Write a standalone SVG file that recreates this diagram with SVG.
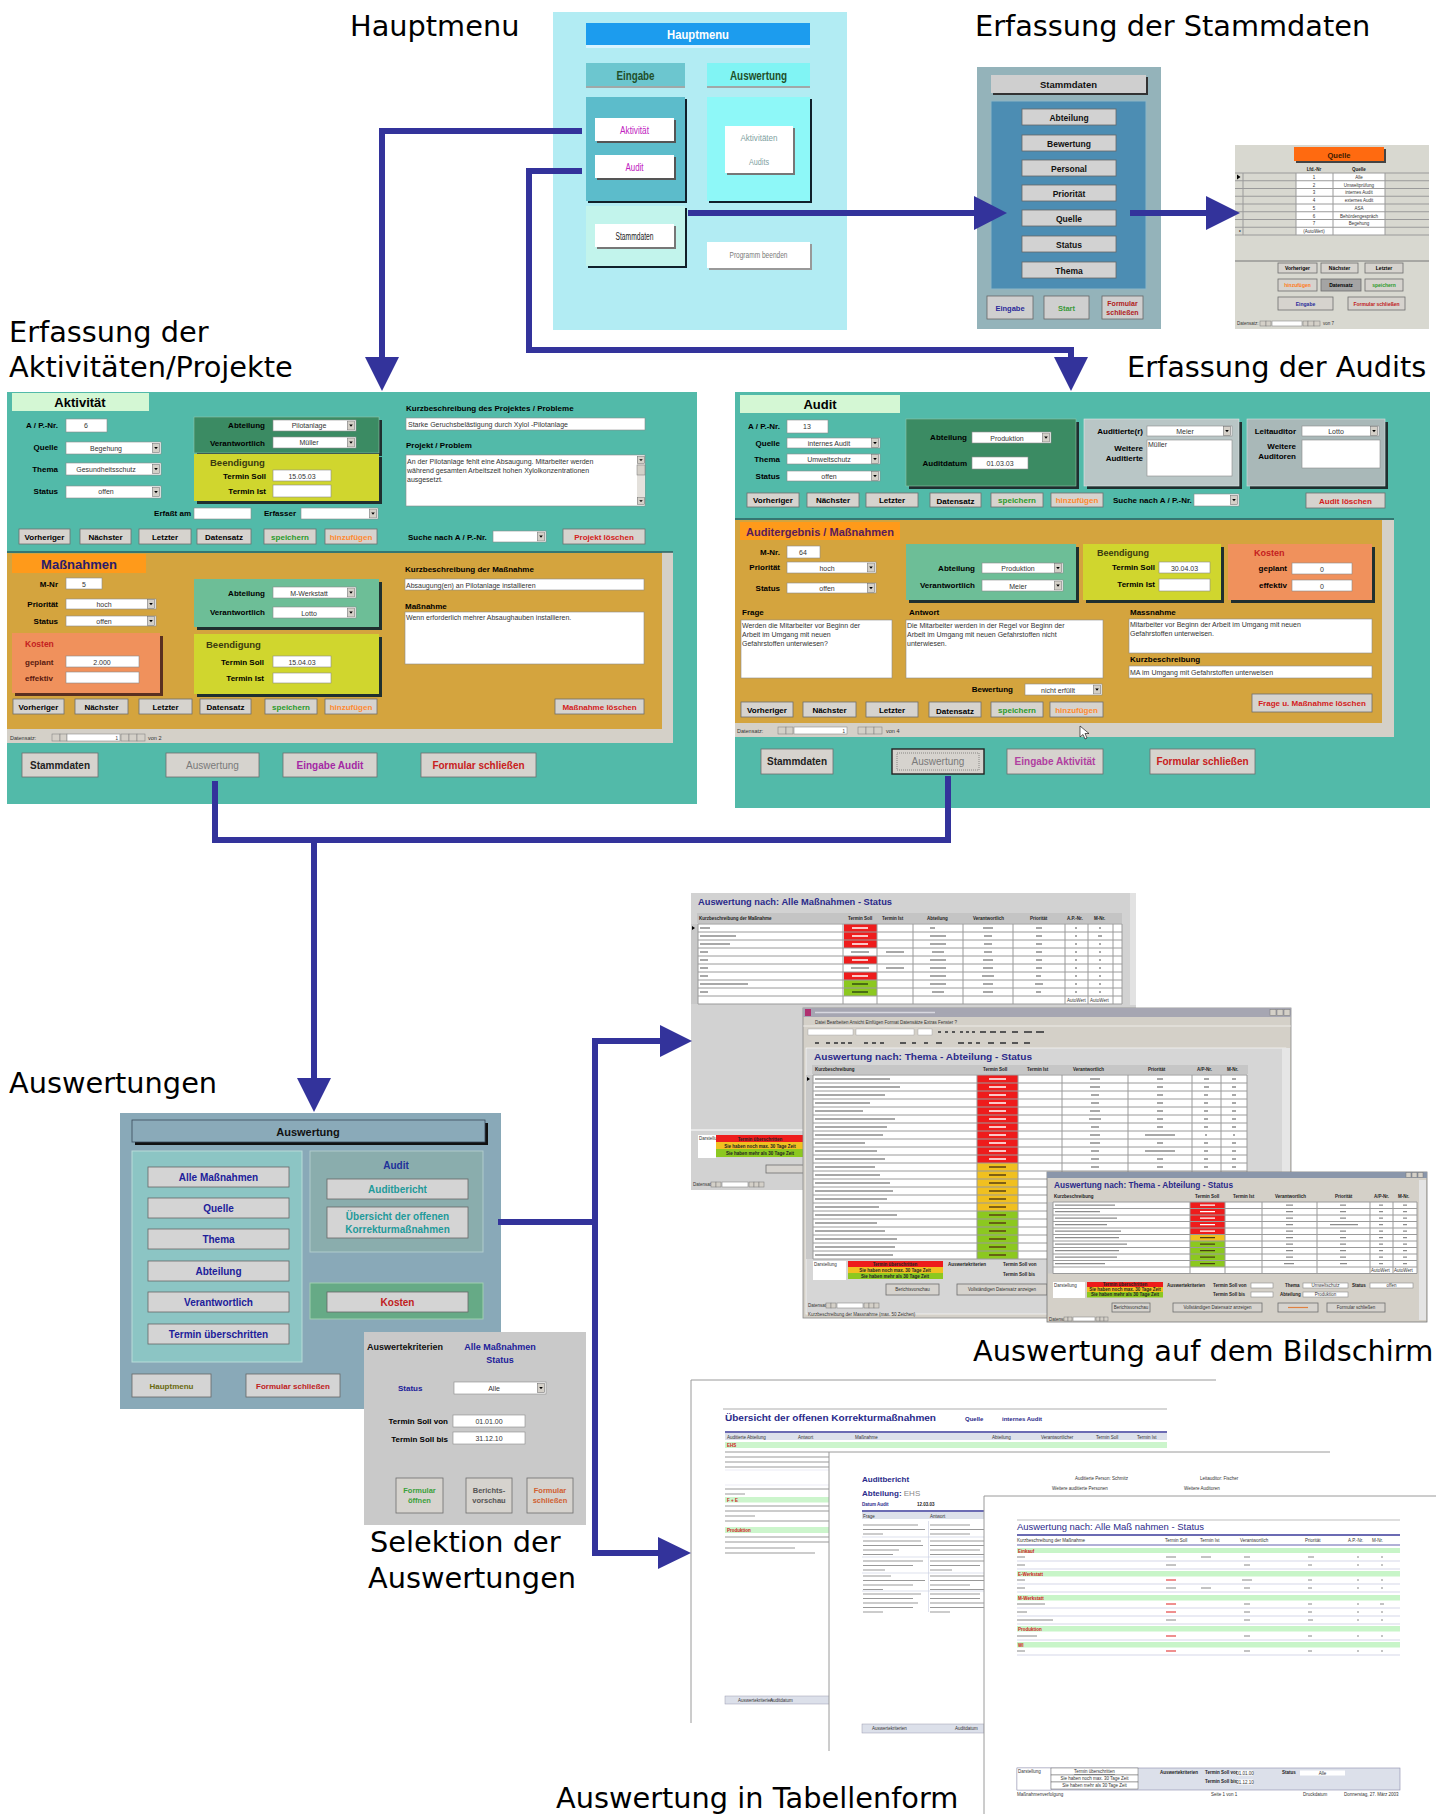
<svg xmlns="http://www.w3.org/2000/svg" width="1436" height="1814" viewBox="0 0 1436 1814">
<defs>
<style>
.lbl{font-family:"DejaVu Sans",Verdana,sans-serif;font-size:28.8px;fill:#000}
.lb{font-family:"Liberation Sans",Arial,sans-serif;font-weight:bold;font-size:8px;fill:#000;text-anchor:end}
.ls{font-family:"Liberation Sans",Arial,sans-serif;font-weight:bold;font-size:8px;fill:#000}
.vl{font-family:"Liberation Sans",Arial,sans-serif;font-size:7px;fill:#333;text-anchor:middle}
.vs{font-family:"Liberation Sans",Arial,sans-serif;font-size:7px;fill:#333}
.bt{font-family:"Liberation Sans",Arial,sans-serif;font-weight:bold;font-size:8px;fill:#000;text-anchor:middle}
.bb{font-family:"Liberation Sans",Arial,sans-serif;font-weight:bold;font-size:10px;text-anchor:middle}
.btn{fill:#d6d3ce;stroke:#6e6e6e;stroke-width:0.8}
.inp{fill:#fff;stroke:#8a8a8a;stroke-width:0.6}
.sh{fill:#1f2f2f}
.conn{fill:none;stroke:#33339b;stroke-width:6}
.head{fill:#33339b}
.tiny{font-family:"Liberation Sans",Arial,sans-serif;font-size:4.5px;fill:#333}
.tinyb{font-family:"Liberation Sans",Arial,sans-serif;font-size:4.5px;font-weight:bold;fill:#222}
.bar{stroke:#8c8c8c;stroke-width:1.5;fill:none}
.wbar{stroke:#ffffff;stroke-width:1.5;fill:none}
.grid{stroke:#9a9a9a;stroke-width:1;fill:none}
.nav{fill:#d4d0c8;stroke:#777;stroke-width:0.5}
</style>
<symbol id="dd" viewBox="0 0 8 10" preserveAspectRatio="none">
<rect x="0.5" y="0.5" width="7" height="9" fill="#d4d0c8" stroke="#777" stroke-width="0.6"/>
<polygon points="2.2,4 5.8,4 4,6.3" fill="#000"/>
</symbol>
</defs>
<rect x="0" y="0" width="1436" height="1814" fill="#ffffff"/>

<!-- ============ HAUPTMENU SCREEN ============ -->
<g id="hauptmenu">
<rect x="553" y="12" width="294" height="318" fill="#b2ecf3"/>
<rect x="586" y="23" width="224" height="22" fill="#1c9cee"/>
<rect x="586" y="45" width="224" height="3" fill="#d8f4ff"/>
<text x="698" y="39" font-family="Liberation Sans, Arial, sans-serif" font-weight="bold" font-size="13" fill="#fff" text-anchor="middle" textLength="62" lengthAdjust="spacingAndGlyphs">Hauptmenu</text>
<rect x="586" y="63" width="99" height="23" fill="#6cc6cf"/>
<rect x="586" y="86" width="99" height="2" fill="#a0a8a8"/>
<text x="635.5" y="80" font-family="Liberation Sans, Arial, sans-serif" font-weight="bold" font-size="12" fill="#1f4f2a" text-anchor="middle" textLength="38" lengthAdjust="spacingAndGlyphs">Eingabe</text>
<rect x="707" y="63" width="103" height="23" fill="#80f4f4"/>
<rect x="707" y="86" width="103" height="2" fill="#a0a8a8"/>
<text x="758.5" y="80" font-family="Liberation Sans, Arial, sans-serif" font-weight="bold" font-size="12" fill="#1f4f2a" text-anchor="middle" textLength="57" lengthAdjust="spacingAndGlyphs">Auswertung</text>
<rect x="588" y="99" width="99" height="104" fill="#10202a"/>
<rect x="586" y="97" width="99" height="104" fill="#5cbccb"/>
<rect x="597" y="120" width="79" height="23" fill="#555"/>
<rect x="595" y="118" width="79" height="23" fill="#fff"/>
<text x="634.5" y="134" font-family="Liberation Sans, Arial, sans-serif" font-size="10" fill="#c020c0" text-anchor="middle" textLength="29" lengthAdjust="spacingAndGlyphs">Aktivität</text>
<rect x="597" y="157" width="79" height="23" fill="#555"/>
<rect x="595" y="155" width="79" height="23" fill="#fff"/>
<text x="634.5" y="171" font-family="Liberation Sans, Arial, sans-serif" font-size="10" fill="#c020c0" text-anchor="middle" textLength="18" lengthAdjust="spacingAndGlyphs">Audit</text>
<rect x="709" y="99" width="103" height="104" fill="#10202a"/>
<rect x="707" y="97" width="103" height="104" fill="#8ef8f8"/>
<rect x="727" y="128" width="68" height="47" fill="#777"/>
<rect x="725" y="126" width="68" height="47" fill="#fff"/>
<text x="759" y="141" font-family="Liberation Sans, Arial, sans-serif" font-size="9" fill="#7f9f9f" text-anchor="middle" textLength="37" lengthAdjust="spacingAndGlyphs">Aktivitäten</text>
<text x="759" y="165" font-family="Liberation Sans, Arial, sans-serif" font-size="9" fill="#7f9f9f" text-anchor="middle" textLength="20" lengthAdjust="spacingAndGlyphs">Audits</text>
<rect x="588" y="208" width="99" height="60" fill="#10202a"/>
<rect x="586" y="206" width="99" height="60" fill="#c2f4ec"/>
<rect x="597" y="226" width="79" height="23" fill="#777"/>
<rect x="595" y="224" width="79" height="23" fill="#fff"/>
<text x="634.5" y="240" font-family="Liberation Sans, Arial, sans-serif" font-size="10" fill="#222" text-anchor="middle" textLength="38" lengthAdjust="spacingAndGlyphs">Stammdaten</text>
<rect x="709" y="244" width="103" height="26" fill="#999"/>
<rect x="707" y="242" width="103" height="26" fill="#fff"/>
<text x="758.5" y="258" font-family="Liberation Sans, Arial, sans-serif" font-size="9" fill="#7a7a7a" text-anchor="middle" textLength="58" lengthAdjust="spacingAndGlyphs">Programm beenden</text>
</g>

<!-- ============ STAMMDATEN SCREEN ============ -->
<g id="stammdaten">
<rect x="977" y="67" width="184" height="262" fill="#94b3ba"/>
<rect x="993" y="77" width="155" height="18" fill="#333"/>
<rect x="991" y="75" width="155" height="18" fill="#cfcfcf"/>
<text x="1068.5" y="88" font-family="Liberation Sans, Arial, sans-serif" font-weight="bold" font-size="9.5" fill="#111" text-anchor="middle">Stammdaten</text>
<rect x="991" y="101" width="155" height="188" fill="#4c8db3" stroke="#8cb6c6" stroke-width="1"/>
<g font-family="Liberation Sans, Arial, sans-serif" font-weight="bold" font-size="8.5" fill="#111" text-anchor="middle">
<rect x="1022" y="109" width="94" height="16" fill="#d2d2d2" stroke="#666" stroke-width="0.8"/><text x="1069" y="120.5">Abteilung</text>
<rect x="1022" y="135" width="94" height="16" fill="#d2d2d2" stroke="#666" stroke-width="0.8"/><text x="1069" y="146.5">Bewertung</text>
<rect x="1022" y="160" width="94" height="16" fill="#d2d2d2" stroke="#666" stroke-width="0.8"/><text x="1069" y="171.5">Personal</text>
<rect x="1022" y="185" width="94" height="16" fill="#d2d2d2" stroke="#666" stroke-width="0.8"/><text x="1069" y="196.5">Priorität</text>
<rect x="1022" y="210" width="94" height="16" fill="#d2d2d2" stroke="#666" stroke-width="0.8"/><text x="1069" y="221.5">Quelle</text>
<rect x="1022" y="236" width="94" height="16" fill="#d2d2d2" stroke="#666" stroke-width="0.8"/><text x="1069" y="247.5">Status</text>
<rect x="1022" y="262" width="94" height="16" fill="#d2d2d2" stroke="#666" stroke-width="0.8"/><text x="1069" y="273.5">Thema</text>
</g>
<rect x="987" y="296" width="46" height="23" fill="#cfcfcf" stroke="#666" stroke-width="0.8"/>
<text x="1010" y="311" font-family="Liberation Sans, Arial, sans-serif" font-weight="bold" font-size="7.5" fill="#2a2a9a" text-anchor="middle">Eingabe</text>
<rect x="1044" y="296" width="45" height="23" fill="#cfcfcf" stroke="#666" stroke-width="0.8"/>
<text x="1066.5" y="311" font-family="Liberation Sans, Arial, sans-serif" font-weight="bold" font-size="7.5" fill="#3a9a3a" text-anchor="middle">Start</text>
<rect x="1102" y="296" width="41" height="23" fill="#cfcfcf" stroke="#666" stroke-width="0.8"/>
<text x="1122.5" y="306" font-family="Liberation Sans, Arial, sans-serif" font-weight="bold" font-size="7" fill="#b02020" text-anchor="middle">Formular</text>
<text x="1122.5" y="315" font-family="Liberation Sans, Arial, sans-serif" font-weight="bold" font-size="7" fill="#b02020" text-anchor="middle">schließen</text>
</g>

<!-- ============ QUELLE SCREEN ============ -->
<g id="quelle">
<rect x="1235" y="145" width="194" height="184" fill="#d8d8d0"/>
<rect x="1296" y="149" width="90" height="14" fill="#444"/>
<rect x="1294" y="147" width="90" height="14" fill="#ff6a10"/>
<text x="1339" y="157.5" font-family="Liberation Sans, Arial, sans-serif" font-weight="bold" font-size="7.5" fill="#3a1a00" text-anchor="middle">Quelle</text>
<text x="1314" y="170.5" class="tinyb" text-anchor="middle">Lfd.-Nr</text>
<text x="1359" y="170.5" class="tinyb" text-anchor="middle">Quelle</text>
<rect x="1296" y="173" width="89" height="62" fill="#fff"/>
<path class="grid" d="M1235 173H1429M1235 180.75H1429M1235 188.5H1429M1235 196.25H1429M1235 204H1429M1235 211.75H1429M1235 219.5H1429M1235 227.25H1429M1235 235H1429M1243 173V235M1296 173V235M1333 173V235M1385 173V235"/>
<polygon points="1237,174.5 1240.5,177 1237,179.5" fill="#000"/>
<text x="1239" y="233.5" class="tinyb">*</text>
<g class="tiny" text-anchor="middle">
<text x="1314" y="178.8">1</text><text x="1359" y="178.8">Alle</text>
<text x="1314" y="186.5">2</text><text x="1359" y="186.5">Umweltprüfung</text>
<text x="1314" y="194.3">3</text><text x="1359" y="194.3">internes Audit</text>
<text x="1314" y="202">4</text><text x="1359" y="202">externes Audit</text>
<text x="1314" y="209.8">5</text><text x="1359" y="209.8">ASA</text>
<text x="1314" y="217.5">6</text><text x="1359" y="217.5">Behördengespräch</text>
<text x="1314" y="225.3">7</text><text x="1359" y="225.3">Begehung</text>
<text x="1314" y="233">(AutoWert)</text>
</g>
<line x1="1235" y1="261" x2="1429" y2="261" stroke="#777" stroke-width="1"/>
<g font-family="Liberation Sans, Arial, sans-serif" font-weight="bold" font-size="5" text-anchor="middle">
<rect class="btn" x="1278" y="263" width="39" height="10"/><text x="1297.5" y="270">Vorheriger</text>
<rect class="btn" x="1321" y="263" width="37" height="10"/><text x="1339.5" y="270">Nächster</text>
<rect class="btn" x="1365" y="263" width="38" height="10"/><text x="1384" y="270">Letzter</text>
<rect class="btn" x="1278" y="279" width="39" height="12"/><text x="1297.5" y="287" fill="#ff7a20">hinzufügen</text>
<rect x="1321" y="279" width="40" height="12" fill="#a4a4a4" stroke="#6e6e6e" stroke-width="0.8"/><text x="1341" y="287">Datensatz</text>
<rect class="btn" x="1365" y="279" width="38" height="12"/><text x="1384" y="287" fill="#2a9a2a">speichern</text>
<rect class="btn" x="1278" y="297" width="55" height="13"/><text x="1305.5" y="305.5" fill="#2a2a9a">Eingabe</text>
<rect class="btn" x="1348" y="297" width="57" height="13"/><text x="1376.5" y="305.5" fill="#c02020">Formular schließen</text>
</g>
<text x="1237" y="325" class="tiny">Datensatz:</text>
<rect class="nav" x="1260" y="321" width="6" height="5"/><rect class="nav" x="1266" y="321" width="5" height="5"/>
<rect class="inp" x="1272" y="321" width="30" height="5"/>
<rect class="nav" x="1303" y="321" width="5" height="5"/><rect class="nav" x="1308" y="321" width="6" height="5"/><rect class="nav" x="1314" y="321" width="6" height="5"/>
<text x="1323" y="325" class="tiny">von 7</text>
</g>

<!-- ============ AKTIVITÄT FORM ============ -->
<g id="form-aktivitaet">
<rect x="7" y="392" width="690" height="412" fill="#52baa9"/>
<rect x="12" y="393" width="137" height="18" fill="#d4f7d4"/>
<text x="80" y="407" font-family="Liberation Sans, Arial, sans-serif" font-weight="bold" font-size="13" text-anchor="middle">Aktivität</text>
<text class="lb" x="58" y="428">A / P.-Nr.</text>
<rect class="inp" x="66" y="419" width="41" height="13"/><text class="vl" x="86" y="428">6</text>
<text class="lb" x="58" y="450">Quelle</text>
<rect class="inp" x="66" y="442" width="95" height="12"/><use href="#dd" x="152" y="443" width="8" height="10"/><text class="vl" x="106" y="451">Begehung</text>
<text class="lb" x="58" y="472">Thema</text>
<rect class="inp" x="66" y="463" width="95" height="12"/><use href="#dd" x="152" y="464" width="8" height="10"/><text class="vl" x="106" y="472">Gesundheitsschutz</text>
<text class="lb" x="58" y="494">Status</text>
<rect class="inp" x="66" y="486" width="95" height="12"/><use href="#dd" x="152" y="487" width="8" height="10"/><text class="vl" x="106" y="494">offen</text>

<rect class="sh" x="197" y="420" width="185" height="36"/>
<rect x="194" y="417" width="185" height="36" fill="#3b8b63" stroke="#8fc4a8" stroke-width="0.6"/>
<text class="lb" x="265" y="428">Abteilung</text>
<rect class="inp" x="273" y="420" width="83" height="11"/><use href="#dd" x="347" y="420.5" width="8" height="10"/><text class="vl" x="309" y="428">Pilotanlage</text>
<text class="lb" x="265" y="446">Verantwortlich</text>
<rect class="inp" x="273" y="437" width="83" height="11"/><use href="#dd" x="347" y="437.5" width="8" height="10"/><text class="vl" x="309" y="445">Müller</text>

<rect class="sh" x="197" y="457" width="185" height="47"/>
<rect x="194" y="454" width="185" height="47" fill="#d0d62e"/>
<text class="ls" x="210" y="466" style="font-size:9.5px;fill:#3a3a10">Beendigung</text>
<text class="lb" x="266" y="479">Termin  Soll</text>
<rect class="inp" x="273" y="470" width="58" height="11"/><text class="vl" x="302" y="478.5">15.05.03</text>
<text class="lb" x="266" y="494">Termin Ist</text>
<rect class="inp" x="273" y="485" width="58" height="12"/>

<text class="lb" x="191" y="516">Erfaßt am</text><rect class="inp" x="194" y="508" width="57" height="11"/>
<text class="lb" x="296" y="516">Erfasser</text><rect class="inp" x="301" y="508" width="77" height="11"/><use href="#dd" x="369" y="508.5" width="8" height="10"/>

<text class="ls" x="406" y="411">Kurzbeschreibung des Projektes / Probleme</text>
<rect class="inp" x="406" y="418" width="239" height="12"/><text class="vs" x="408" y="427">Starke Geruchsbelästigung durch Xylol -Pilotanlage</text>
<text class="ls" x="406" y="448">Projekt / Problem</text>
<rect class="inp" x="406" y="455" width="239" height="51"/>
<rect x="637" y="456" width="8" height="49" fill="#e4e1dc"/>
<use href="#dd" x="637" y="456" width="8" height="8"/><use href="#dd" x="637" y="497" width="8" height="8"/>
<rect x="637" y="465" width="8" height="10" fill="#d4d0c8" stroke="#777" stroke-width="0.5"/>
<text class="vs" x="407" y="464">An der Pilotanlage fehlt eine Absaugung. Mitarbeiter werden</text>
<text class="vs" x="407" y="473">während gesamten Arbeitszeit hohen Xylolkonzentrationen</text>
<text class="vs" x="407" y="482">ausgesetzt.</text>

<rect class="btn" x="19" y="529" width="51" height="15"/><text class="bt" x="44.5" y="540">Vorheriger</text>
<rect class="btn" x="80" y="529" width="51" height="15"/><text class="bt" x="105.5" y="540">Nächster</text>
<rect class="btn" x="139" y="529" width="52" height="15"/><text class="bt" x="165" y="540">Letzter</text>
<rect class="btn" x="197" y="529" width="54" height="15"/><text class="bt" x="224" y="540">Datensatz</text>
<rect class="btn" x="264" y="529" width="52" height="15"/><text class="bt" x="290" y="540" style="fill:#2a9a2a">speichern</text>
<rect class="btn" x="325" y="529" width="52" height="15"/><text class="bt" x="351" y="540" style="fill:#ff8a30">hinzufügen</text>
<text class="ls" x="408" y="540">Suche nach A / P.-Nr.</text>
<rect class="inp" x="493" y="531" width="53" height="11"/><use href="#dd" x="537" y="531.5" width="8" height="10"/>
<rect class="btn" x="563" y="529" width="82" height="15"/><text class="bt" x="604" y="540" style="fill:#d42020">Projekt  löschen</text>

<rect x="662" y="552" width="11" height="191" fill="#d4d0c8"/>
<rect x="7" y="729" width="666" height="14" fill="#d4d0c8"/>
<rect x="7" y="553" width="655" height="176" fill="#d4a43e"/>
<line x1="7" y1="552" x2="673" y2="552" stroke="#2d5f5f" stroke-width="1.5"/>
<rect x="12" y="554" width="134" height="19" fill="#ff9a1a"/>
<text x="79" y="569" font-family="Liberation Sans, Arial, sans-serif" font-weight="bold" font-size="13" fill="#2a1a6a" text-anchor="middle">Maßnahmen</text>
<text class="lb" x="58" y="587">M-Nr</text>
<rect class="inp" x="66" y="578" width="36" height="11"/><text class="vl" x="84" y="586.5">5</text>
<text class="lb" x="58" y="607">Priorität</text>
<rect class="inp" x="66" y="599" width="90" height="10"/><use href="#dd" x="147" y="599" width="8" height="10"/><text class="vl" x="104" y="607">hoch</text>
<text class="lb" x="58" y="624">Status</text>
<rect class="inp" x="66" y="616" width="90" height="10"/><use href="#dd" x="147" y="616" width="8" height="10"/><text class="vl" x="104" y="624">offen</text>

<rect x="15" y="636" width="148" height="60" fill="#5a3020"/>
<rect x="12" y="633" width="148" height="60" fill="#f0915c"/>
<text class="ls" x="25" y="647" style="font-size:8.5px;fill:#c42020">Kosten</text>
<text class="ls" x="25" y="665" style="fill:#5a1a10">geplant</text>
<rect class="inp" x="66" y="656" width="73" height="11"/><text class="vl" x="102" y="664.5">2.000</text>
<text class="ls" x="25" y="681" style="fill:#5a1a10">effektiv</text>
<rect class="inp" x="66" y="672" width="73" height="11"/>

<rect class="sh" x="197" y="582" width="185" height="48"/>
<rect x="194" y="579" width="185" height="48" fill="#6dbe97"/>
<text class="lb" x="265" y="596">Abteilung</text>
<rect class="inp" x="273" y="587" width="83" height="11"/><use href="#dd" x="347" y="587.5" width="8" height="10"/><text class="vl" x="309" y="595.5">M-Werkstatt</text>
<text class="lb" x="265" y="615">Verantwortlich</text>
<rect class="inp" x="273" y="607" width="83" height="11"/><use href="#dd" x="347" y="607.5" width="8" height="10"/><text class="vl" x="309" y="615.5">Lotto</text>

<rect class="sh" x="197" y="637" width="185" height="60"/>
<rect x="194" y="634" width="185" height="60" fill="#d0d62e"/>
<text class="ls" x="206" y="648" style="font-size:9.5px;fill:#3a3a10">Beendigung</text>
<text class="lb" x="264" y="665">Termin Soll</text>
<rect class="inp" x="273" y="656" width="58" height="11"/><text class="vl" x="302" y="664.5">15.04.03</text>
<text class="lb" x="264" y="681">Termin Ist</text>
<rect class="inp" x="273" y="673" width="58" height="10"/>

<text class="ls" x="405" y="572">Kurzbeschreibung der Maßnahme</text>
<rect class="inp" x="405" y="579" width="239" height="11"/><text class="vs" x="406" y="587.5">Absaugung(en) an Pilotanlage installieren</text>
<text class="ls" x="405" y="609">Maßnahme</text>
<rect class="inp" x="405" y="612" width="239" height="52"/><text class="vs" x="406" y="620">Wenn erforderlich mehrer Absaughauben installieren.</text>

<rect class="btn" x="13" y="699" width="51" height="15"/><text class="bt" x="38.5" y="710">Vorheriger</text>
<rect class="btn" x="75" y="699" width="53" height="15"/><text class="bt" x="101.5" y="710">Nächster</text>
<rect class="btn" x="139" y="699" width="53" height="15"/><text class="bt" x="165.5" y="710">Letzter</text>
<rect class="btn" x="200" y="699" width="51" height="15"/><text class="bt" x="225.5" y="710">Datensatz</text>
<rect class="btn" x="265" y="699" width="52" height="15"/><text class="bt" x="291" y="710" style="fill:#2a9a2a">speichern</text>
<rect class="btn" x="325" y="699" width="52" height="15"/><text class="bt" x="351" y="710" style="fill:#ff8a30">hinzufügen</text>
<rect class="btn" x="555" y="699" width="89" height="15"/><text class="bt" x="599.5" y="710" style="fill:#d42020">Maßnahme löschen</text>

<text x="10" y="739.5" class="tiny" style="font-size:5.5px">Datensatz:</text>
<rect class="nav" x="52" y="734" width="8" height="7"/><rect class="nav" x="60" y="734" width="7" height="7"/>
<rect class="inp" x="67" y="734" width="53" height="7"/><text x="118" y="740" class="tiny" text-anchor="end">1</text>
<rect class="nav" x="121" y="734" width="8" height="7"/><rect class="nav" x="129" y="734" width="8" height="7"/><rect class="nav" x="137" y="734" width="8" height="7"/>
<text x="148" y="739.5" class="tiny" style="font-size:5.5px">von 2</text>

<rect class="btn" x="22" y="753" width="76" height="24"/><text class="bb" x="60" y="768.5" fill="#222">Stammdaten</text>
<rect class="btn" x="166" y="753" width="93" height="24"/><text class="bb" x="212.5" y="768.5" fill="#7a7a7a" font-weight="normal" style="font-weight:normal">Auswertung</text>
<rect class="btn" x="283" y="753" width="94" height="24"/><text class="bb" x="330" y="768.5" fill="#a428a4">Eingabe Audit</text>
<rect class="btn" x="421" y="753" width="115" height="24"/><text class="bb" x="478.5" y="768.5" fill="#c82020">Formular schließen</text>
</g>

<!-- ============ AUDIT FORM ============ -->
<g id="form-audit">
<rect x="735" y="392" width="695" height="416" fill="#52baa9"/>
<rect x="740" y="395" width="160" height="18" fill="#d4f7d4"/>
<text x="820" y="409" font-family="Liberation Sans, Arial, sans-serif" font-weight="bold" font-size="13" text-anchor="middle">Audit</text>
<text class="lb" x="780" y="429">A / P.-Nr.</text>
<rect class="inp" x="787" y="420" width="41" height="13"/><text class="vl" x="807" y="429">13</text>
<text class="lb" x="780" y="446">Quelle</text>
<rect class="inp" x="787" y="438" width="93" height="10"/><use href="#dd" x="871" y="438" width="8" height="10"/><text class="vl" x="829" y="446">internes Audit</text>
<text class="lb" x="780" y="462">Thema</text>
<rect class="inp" x="787" y="454" width="93" height="10"/><use href="#dd" x="871" y="454" width="8" height="10"/><text class="vl" x="829" y="462">Umweltschutz</text>
<text class="lb" x="780" y="479">Status</text>
<rect class="inp" x="787" y="471" width="93" height="10"/><use href="#dd" x="871" y="471" width="8" height="10"/><text class="vl" x="829" y="479">offen</text>

<rect class="sh" x="909" y="422" width="170" height="67"/>
<rect x="906" y="419" width="170" height="67" fill="#3b8b63" stroke="#8fc4a8" stroke-width="0.6"/>
<text class="lb" x="967" y="440">Abteilung</text>
<rect class="inp" x="972" y="432" width="79" height="11"/><use href="#dd" x="1042" y="432.5" width="8" height="10"/><text class="vl" x="1007" y="440.5">Produktion</text>
<text class="lb" x="967" y="466">Auditdatum</text>
<rect class="inp" x="972" y="457" width="56" height="12"/><text class="vl" x="1000" y="466">01.03.03</text>

<rect class="sh" x="1087" y="422" width="155" height="67"/>
<rect x="1084" y="419" width="155" height="67" fill="#b9c6c6" stroke="#e0e8e8" stroke-width="0.6"/>
<text class="lb" x="1143" y="434">Auditierte(r)</text>
<rect class="inp" x="1147" y="426" width="85" height="10"/><use href="#dd" x="1223" y="426" width="8" height="10"/><text class="vl" x="1185" y="434">Meier</text>
<text class="lb" x="1143" y="451">Weitere</text>
<text class="lb" x="1143" y="461">Auditierte</text>
<rect class="inp" x="1147" y="440" width="85" height="36"/><text class="vs" x="1148" y="447">Müller</text>

<rect class="sh" x="1250" y="422" width="138" height="67"/>
<rect x="1247" y="419" width="138" height="67" fill="#a9b8b8" stroke="#d8e0e0" stroke-width="0.6"/>
<text class="lb" x="1296" y="434">Leitauditor</text>
<rect class="inp" x="1302" y="426" width="77" height="10"/><use href="#dd" x="1370" y="426" width="8" height="10"/><text class="vl" x="1336" y="434">Lotto</text>
<text class="lb" x="1296" y="449">Weitere</text>
<text class="lb" x="1296" y="459">Auditoren</text>
<rect class="inp" x="1302" y="440" width="78" height="28"/>

<rect class="btn" x="747" y="493" width="52" height="14"/><text class="bt" x="773" y="503">Vorheriger</text>
<rect class="btn" x="807" y="493" width="52" height="14"/><text class="bt" x="833" y="503">Nächster</text>
<rect class="btn" x="866" y="493" width="52" height="14"/><text class="bt" x="892" y="503">Letzter</text>
<rect class="btn" x="930" y="493" width="51" height="14"/><text class="bt" x="955.5" y="503.5">Datensatz</text>
<rect class="btn" x="991" y="493" width="52" height="14"/><text class="bt" x="1017" y="503" style="fill:#2a9a2a">speichern</text>
<rect class="btn" x="1051" y="493" width="52" height="14"/><text class="bt" x="1077" y="503" style="fill:#ff8a30">hinzufügen</text>
<text class="ls" x="1113" y="503">Suche nach A / P.-Nr.</text>
<rect class="inp" x="1194" y="494" width="45" height="12"/><use href="#dd" x="1230" y="495" width="8" height="10"/>
<rect class="btn" x="1306" y="493" width="79" height="15"/><text class="bt" x="1345.5" y="503.5" style="fill:#d42020">Audit  löschen</text>

<rect x="1382" y="520" width="12" height="217" fill="#d4d0c8"/>
<rect x="735" y="723" width="659" height="14" fill="#d4d0c8"/>
<rect x="735" y="520" width="647" height="203" fill="#d4a43e"/>
<line x1="735" y1="519" x2="1394" y2="519" stroke="#2d5f5f" stroke-width="1.5"/>
<rect x="740" y="522" width="160" height="18" fill="#ff9a1a"/>
<text x="746" y="536" font-family="Liberation Sans, Arial, sans-serif" font-weight="bold" font-size="10.5" fill="#5a1a5a" textLength="148" lengthAdjust="spacingAndGlyphs">Auditergebnis / Maßnahmen</text>
<text class="lb" x="780" y="555">M-Nr.</text>
<rect class="inp" x="787" y="546" width="33" height="12"/><text class="vl" x="803" y="555">64</text>
<text class="lb" x="780" y="570">Priorität</text>
<rect class="inp" x="787" y="562" width="89" height="11"/><use href="#dd" x="867" y="562.5" width="8" height="10"/><text class="vl" x="827" y="570.5">hoch</text>
<text class="lb" x="780" y="591">Status</text>
<rect class="inp" x="787" y="583" width="89" height="10"/><use href="#dd" x="867" y="583" width="8" height="10"/><text class="vl" x="827" y="591">offen</text>

<rect class="sh" x="909" y="547" width="170" height="56"/>
<rect x="906" y="544" width="170" height="56" fill="#6dbe97"/>
<text class="lb" x="975" y="571">Abteilung</text>
<rect class="inp" x="982" y="563" width="81" height="10"/><use href="#dd" x="1054" y="563" width="8" height="10"/><text class="vl" x="1018" y="571">Produktion</text>
<text class="lb" x="975" y="588">Verantwortlich</text>
<rect class="inp" x="982" y="580" width="81" height="11"/><use href="#dd" x="1054" y="580.5" width="8" height="10"/><text class="vl" x="1018" y="588.5">Meier</text>

<rect class="sh" x="1086" y="547" width="138" height="56"/>
<rect x="1083" y="544" width="138" height="56" fill="#d0d62e"/>
<text class="ls" x="1097" y="555.5" style="font-size:9px;fill:#3a3a10">Beendigung</text>
<text class="lb" x="1155" y="570">Termin Soll</text>
<rect class="inp" x="1159" y="562" width="51" height="11"/><text class="vl" x="1184.5" y="570.5">30.04.03</text>
<text class="lb" x="1155" y="587">Termin Ist</text>
<rect class="inp" x="1159" y="579" width="51" height="12"/>

<rect class="sh" x="1231" y="547" width="144" height="56"/>
<rect x="1228" y="544" width="144" height="56" fill="#f0915c"/>
<text class="ls" x="1254" y="555.5" style="font-size:9px;fill:#c42020">Kosten</text>
<text class="lb" x="1287" y="571">geplant</text>
<rect class="inp" x="1292" y="563" width="60" height="11"/><text class="vl" x="1322" y="571.5">0</text>
<text class="lb" x="1287" y="588">effektiv</text>
<rect class="inp" x="1292" y="580" width="60" height="11"/><text class="vl" x="1322" y="588.5">0</text>

<text class="ls" x="742" y="615">Frage</text>
<rect class="inp" x="741" y="620" width="151" height="58"/>
<text class="vs" x="742" y="628">Werden die Mitarbeiter vor Beginn der</text>
<text class="vs" x="742" y="637">Arbeit im Umgang mit neuen</text>
<text class="vs" x="742" y="646">Gefahrstoffen unterwiesen?</text>
<text class="ls" x="909" y="615">Antwort</text>
<rect class="inp" x="906" y="620" width="197" height="58"/>
<text class="vs" x="907" y="628">Die Mitarbeiter werden in der Regel vor Beginn der</text>
<text class="vs" x="907" y="637">Arbeit im Umgang mit neuen Gefahrstoffen nicht</text>
<text class="vs" x="907" y="646">unterwiesen.</text>
<text class="ls" x="1130" y="615">Massnahme</text>
<rect class="inp" x="1129" y="619" width="243" height="34"/>
<text class="vs" x="1130" y="627">Mitarbeiter vor Beginn der Arbeit im Umgang mit neuen</text>
<text class="vs" x="1130" y="636">Gefahrstoffen unterweisen.</text>
<text class="ls" x="1130" y="662">Kurzbeschreibung</text>
<rect class="inp" x="1129" y="666" width="243" height="12"/>
<text class="vs" x="1130" y="674.5">MA im Umgang mit Gefahrstoffen unterweisen</text>
<text class="lb" x="1013" y="692">Bewertung</text>
<rect class="inp" x="1025" y="684" width="77" height="11"/><use href="#dd" x="1093" y="684.5" width="8" height="10"/><text class="vl" x="1058" y="692.5">nicht erfüllt</text>
<rect class="btn" x="1252" y="694" width="120" height="18"/><text class="bt" x="1312" y="706" style="fill:#d42020">Frage u. Maßnahme  löschen</text>

<rect class="btn" x="741" y="702" width="52" height="15"/><text class="bt" x="767" y="713">Vorheriger</text>
<rect class="btn" x="803" y="702" width="53" height="15"/><text class="bt" x="829.5" y="713">Nächster</text>
<rect class="btn" x="866" y="702" width="52" height="15"/><text class="bt" x="892" y="713">Letzter</text>
<rect class="btn" x="929" y="702" width="52" height="15"/><text class="bt" x="955" y="713.5">Datensatz</text>
<rect class="btn" x="991" y="702" width="52" height="15"/><text class="bt" x="1017" y="713" style="fill:#2a9a2a">speichern</text>
<rect class="btn" x="1050" y="702" width="53" height="15"/><text class="bt" x="1076.5" y="713" style="fill:#ff8a30">hinzufügen</text>

<text x="737" y="733" class="tiny" style="font-size:5.5px">Datensatz:</text>
<rect class="nav" x="778" y="727" width="8" height="7"/><rect class="nav" x="786" y="727" width="7" height="7"/>
<rect class="inp" x="794" y="727" width="53" height="7"/><text x="845" y="733" class="tiny" text-anchor="end">1</text>
<rect class="nav" x="858" y="727" width="8" height="7"/><rect class="nav" x="866" y="727" width="8" height="7"/><rect class="nav" x="874" y="727" width="8" height="7"/>
<text x="886" y="733" class="tiny" style="font-size:5.5px">von 4</text>
<polygon points="1080,726 1080,737 1083,734.5 1085,739 1087,738 1085,733.5 1089,733.5" fill="#fff" stroke="#000" stroke-width="0.6"/>

<rect class="btn" x="761" y="749" width="72" height="25"/><text class="bb" x="797" y="765" fill="#222">Stammdaten</text>
<rect x="892" y="749" width="92" height="25" fill="#d6d3ce" stroke="#222" stroke-width="1.4"/>
<rect x="897" y="753" width="82" height="17" fill="none" stroke="#555" stroke-width="0.6" stroke-dasharray="1,1"/>
<text class="bb" x="938" y="765" fill="#7a7a7a" style="font-weight:normal">Auswertung</text>
<rect class="btn" x="1007" y="749" width="96" height="25"/><text class="bb" x="1055" y="765" fill="#b040a0">Eingabe Aktivität</text>
<rect class="btn" x="1150" y="749" width="105" height="25"/><text class="bb" x="1202.5" y="765" fill="#c82020">Formular schließen</text>
</g>

<!-- ============ AUSWERTUNG MENU ============ -->
<g id="auswertung-menu">
<rect x="120" y="1113" width="381" height="296" fill="#89a9b8"/>
<rect x="135" y="1123" width="353" height="22" fill="#111"/>
<rect x="132" y="1120" width="353" height="22" fill="#8aaab9" stroke="#3a4a5a" stroke-width="0.8"/>
<text x="308" y="1135.5" font-family="Liberation Sans, Arial, sans-serif" font-weight="bold" font-size="11" fill="#111" text-anchor="middle">Auswertung</text>
<rect x="132" y="1151" width="170" height="211" fill="#8cc5c4" stroke="#b8dcd8" stroke-width="1"/>
<g font-family="Liberation Sans, Arial, sans-serif" font-weight="bold" font-size="10" fill="#20209a" text-anchor="middle">
<rect x="148" y="1167" width="141" height="20" fill="#d4d4d4" stroke="#666" stroke-width="0.8"/><text x="218.5" y="1180.5">Alle Maßnahmen</text>
<rect x="148" y="1198" width="141" height="20" fill="#d4d4d4" stroke="#666" stroke-width="0.8"/><text x="218.5" y="1211.5">Quelle</text>
<rect x="148" y="1229" width="141" height="20" fill="#d4d4d4" stroke="#666" stroke-width="0.8"/><text x="218.5" y="1242.5">Thema</text>
<rect x="148" y="1261" width="141" height="20" fill="#d4d4d4" stroke="#666" stroke-width="0.8"/><text x="218.5" y="1274.5">Abteilung</text>
<rect x="148" y="1292" width="141" height="20" fill="#d4d4d4" stroke="#666" stroke-width="0.8"/><text x="218.5" y="1305.5">Verantwortlich</text>
<rect x="148" y="1324" width="141" height="20" fill="#d4d4d4" stroke="#666" stroke-width="0.8"/><text x="218.5" y="1337.5">Termin überschritten</text>
</g>
<rect x="310" y="1151" width="173" height="101" fill="#8aadad" stroke="#b0cccc" stroke-width="1"/>
<text x="396" y="1169" font-family="Liberation Sans, Arial, sans-serif" font-weight="bold" font-size="10" fill="#20309a" text-anchor="middle">Audit</text>
<g font-family="Liberation Sans, Arial, sans-serif" font-weight="bold" font-size="10" fill="#1f9a9a" text-anchor="middle">
<rect x="327" y="1179" width="141" height="20" fill="#d4d4d4" stroke="#666" stroke-width="0.8"/><text x="397.5" y="1192.5">Auditbericht</text>
<rect x="327" y="1207" width="141" height="31" fill="#d4d4d4" stroke="#666" stroke-width="0.8"/><text x="397.5" y="1220">Übersicht der offenen</text><text x="397.5" y="1232.5">Korrekturmaßnahmen</text>
</g>
<rect x="310" y="1283" width="173" height="36" fill="#66aa86" stroke="#a0d0b0" stroke-width="1"/>
<rect x="327" y="1292" width="141" height="20" fill="#d4d4d4" stroke="#666" stroke-width="0.8"/>
<text x="397.5" y="1305.5" font-family="Liberation Sans, Arial, sans-serif" font-weight="bold" font-size="10" fill="#c02020" text-anchor="middle">Kosten</text>
<rect x="132" y="1374" width="79" height="23" fill="#d4d4d4" stroke="#666" stroke-width="0.8"/>
<text x="171.5" y="1388.5" font-family="Liberation Sans, Arial, sans-serif" font-weight="bold" font-size="8" fill="#6a6a10" text-anchor="middle">Hauptmenu</text>
<rect x="246" y="1374" width="94" height="23" fill="#d4d4d4" stroke="#666" stroke-width="0.8"/>
<text x="293" y="1388.5" font-family="Liberation Sans, Arial, sans-serif" font-weight="bold" font-size="8" fill="#c02020" text-anchor="middle">Formular schließen</text>
</g>

<!-- ============ SELEKTION ============ -->
<g id="selektion">
<rect x="364" y="1332" width="222" height="193" fill="#c9c9c9"/>
<text x="367" y="1350" font-family="Liberation Sans, Arial, sans-serif" font-weight="bold" font-size="9" fill="#111">Auswertekriterien</text>
<text x="500" y="1350" font-family="Liberation Sans, Arial, sans-serif" font-weight="bold" font-size="9" fill="#20209a" text-anchor="middle">Alle Maßnahmen</text>
<text x="500" y="1362.5" font-family="Liberation Sans, Arial, sans-serif" font-weight="bold" font-size="9" fill="#20209a" text-anchor="middle">Status</text>
<text x="398" y="1390.5" class="ls" style="fill:#20209a">Status</text>
<rect class="inp" x="454" y="1382" width="92" height="12"/><use href="#dd" x="537" y="1383" width="8" height="10"/><text class="vl" x="494" y="1390.5">Alle</text>
<text class="lb" x="448" y="1424">Termin Soll von</text>
<rect class="inp" x="453" y="1415" width="72" height="12"/><text class="vl" x="489" y="1424">01.01.00</text>
<text class="lb" x="448" y="1441.5">Termin Soll  bis</text>
<rect class="inp" x="453" y="1432" width="72" height="12"/><text class="vl" x="489" y="1441">31.12.10</text>
<g font-family="Liberation Sans, Arial, sans-serif" font-weight="bold" font-size="7.5" text-anchor="middle">
<rect class="btn" x="396" y="1478" width="47" height="35"/><text x="419.5" y="1493" fill="#3aa03a">Formular</text><text x="419.5" y="1503" fill="#3aa03a">öffnen</text>
<rect class="btn" x="466" y="1478" width="46" height="35"/><text x="489" y="1493" fill="#555">Berichts-</text><text x="489" y="1503" fill="#555">vorschau</text>
<rect class="btn" x="527" y="1478" width="46" height="35"/><text x="550" y="1493" fill="#d06030">Formular</text><text x="550" y="1503" fill="#d06030">schließen</text>
</g>
</g>

<!-- ============ SCREEN A: Alle Maßnahmen ============ -->
<g id="screen-a">
<rect x="691" y="893" width="445" height="297" fill="#d2d2d2"/>
<rect x="1130" y="893" width="6" height="112" fill="#e2e2e2"/>
<text x="698" y="905" font-family="Liberation Sans, Arial, sans-serif" font-weight="bold" font-size="9" fill="#2a2a8a" textLength="194" lengthAdjust="spacingAndGlyphs">Auswertung nach: Alle Maßnahmen - Status</text>
<rect x="697" y="913" width="425" height="10" fill="#c4c4c4"/>
<g class="tinyb" font-size="4">
<text x="699" y="920">Kurzbeschreibung der Maßnahme</text>
<text x="848" y="920">Termin Soll</text><text x="882" y="920">Termin Ist</text>
<text x="927" y="920">Abteilung</text><text x="973" y="920">Verantwortlich</text>
<text x="1030" y="920">Priorität</text><text x="1067" y="920">A.P.-Nr.</text><text x="1094" y="920">M-Nr.</text>
</g>
<rect x="698" y="924" width="424" height="80" fill="#fff"/>
<rect x="691" y="924" width="7" height="80" fill="#c8c8c8"/>
<rect x="844" y="924" width="33" height="8" fill="#ee1c1c"/>
<rect x="844" y="932" width="33" height="8" fill="#ee1c1c"/>
<rect x="844" y="940" width="33" height="8" fill="#ee1c1c"/>
<rect x="844" y="956" width="33" height="8" fill="#ee1c1c"/>
<rect x="844" y="972" width="33" height="8" fill="#ee1c1c"/>
<rect x="844" y="980" width="33" height="8" fill="#8cc820"/>
<rect x="844" y="988" width="33" height="8" fill="#8cc820"/>
<path class="grid" d="M698 924H1122M698 932H1122M698 940H1122M698 948H1122M698 956H1122M698 964H1122M698 972H1122M698 980H1122M698 988H1122M698 996H1122M698 1004H1122M698 924V1004M843 924V1004M877 924V1004M913 924V1004M963 924V1004M1013 924V1004M1065 924V1004M1088 924V1004M1113 924V1004M1122 924V1004"/>
<path class="bar" d="M700 928h10M700 936h36M700 944h30M700 952h8M700 960h8M700 968h8M700 976h8M700 984h48M700 992h8M930 928h5M930 936h16M930 944h16M932 952h12M930 960h16M930 968h16M930 976h16M930 984h16M932 992h12M983 928h10M984 936h8M984 944h8M984 952h8M983 960h10M983 968h10M982 976h12M983 984h10M983 992h10M1036 928h6M1036 936h6M1036 944h6M1036 952h6M1036 960h6M1036 968h6M1036 976h5M1035 984h8M1036 992h5M1075 928h2M1075 936h2M1075 944h2M1075 952h2M1075 960h2M1075 968h2M1075 976h2M1075 984h2M1075 992h2M1099 928h2M1098 936h4M1099 944h2M1099 952h2M1099 960h2M1099 968h2M1099 976h2M1099 984h2M1099 992h2M851 952h18M851 968h18M886 952h18M886 968h18"/>
<path class="wbar" d="M852 928h16M852 936h16M852 944h16M852 960h16M852 976h16"/>
<path stroke="#335010" stroke-width="1.5" d="M852 984h16M852 992h16"/>
<text x="1067" y="1002" class="tiny" font-size="3.5">AutoWert</text><text x="1090" y="1002" class="tiny" font-size="3.5">AutoWert</text>
<polygon points="692,926 695,928 692,930" fill="#000"/>
<line x1="691" y1="1130" x2="805" y2="1130" stroke="#fff" stroke-width="1"/>
<rect x="698" y="1135" width="18" height="23" fill="#fff"/>
<text x="699" y="1140" class="tiny" font-size="3.5">Darstellung</text>
<rect x="716" y="1135" width="88" height="7" fill="#ee1c1c"/>
<rect x="716" y="1142" width="88" height="7" fill="#f0c020"/>
<rect x="716" y="1149" width="88" height="8" fill="#8cc820"/>
<text x="760" y="1140.5" class="tinyb" font-size="3.8" fill="#fff" text-anchor="middle">Termin überschritten</text>
<text x="760" y="1147.5" class="tinyb" font-size="3.8" text-anchor="middle">Sie haben noch max. 30 Tage Zeit</text>
<text x="760" y="1154.5" class="tinyb" font-size="3.8" text-anchor="middle">Sie haben mehr als 30 Tage Zeit</text>
<rect class="btn" x="766" y="1165" width="40" height="8"/>
<text x="693" y="1186" class="tiny" font-size="3.8">Datensatz:</text>
<rect class="nav" x="711" y="1182" width="5" height="5"/><rect class="nav" x="716" y="1182" width="5" height="5"/>
<rect class="inp" x="722" y="1182" width="26" height="5"/>
<rect class="nav" x="749" y="1182" width="5" height="5"/><rect class="nav" x="754" y="1182" width="5" height="5"/><rect class="nav" x="759" y="1182" width="5" height="5"/>
</g>

<!-- ============ SCREEN B: Thema - Abteilung - Status (window) ============ -->
<g id="screen-b">
<rect x="803" y="1008" width="488" height="310" fill="#d4d0c8" stroke="#888" stroke-width="0.8"/>
<rect x="803" y="1008" width="488" height="9" fill="#a6a6b2"/>
<rect x="805" y="1009" width="6" height="7" fill="#b03070"/>
<path stroke="#d8d8e0" stroke-width="1.5" d="M815 1012.5h120"/>
<rect x="1270" y="1009.5" width="6" height="6" class="nav"/><rect x="1277" y="1009.5" width="6" height="6" class="nav"/><rect x="1284" y="1009.5" width="6" height="6" class="nav"/>
<text x="815" y="1023.5" class="tiny" font-size="4.5">Datei  Bearbeiten  Ansicht  Einfügen  Format  Datensätze  Extras  Fenster  ?</text>
<line x1="803" y1="1026" x2="1291" y2="1026" stroke="#fff" stroke-width="0.6"/>
<rect x="808" y="1029" width="45" height="6" fill="#fff" stroke="#999" stroke-width="0.4"/>
<rect x="856" y="1029" width="58" height="6" fill="#fff" stroke="#999" stroke-width="0.4"/>
<rect x="918" y="1029" width="14" height="6" fill="#fff" stroke="#999" stroke-width="0.4"/>
<path stroke="#555" stroke-width="2" d="M938 1032h3M945 1032h3M952 1032h3M960 1032h3M966 1032h3M972 1032h3M980 1032h6M990 1032h6M1000 1032h6M1012 1032h6M1024 1032h8M1036 1032h8M815 1043h4M826 1043h4M834 1043h4M841 1043h4M848 1043h4M864 1043h4M872 1043h4M880 1043h4M900 1043h6M912 1043h4M924 1043h4M936 1043h6M958 1043h6M968 1043h4M976 1043h4M988 1043h6M1000 1043h6M1012 1043h6M1024 1043h6"/>
<rect x="806" y="1048" width="480" height="266" fill="#d6d6d6" stroke="#fff" stroke-width="0.6"/>
<rect x="1282" y="1048" width="8" height="265" fill="#e6e6e6"/>
<text x="814" y="1060" font-family="Liberation Sans, Arial, sans-serif" font-weight="bold" font-size="9.5" fill="#2a2a8a" textLength="218" lengthAdjust="spacingAndGlyphs">Auswertung nach: Thema - Abteilung - Status</text>
<rect x="812" y="1065" width="436" height="9" fill="#c6c6c6"/>
<g class="tinyb" font-size="4">
<text x="815" y="1071">Kurzbeschreibung</text>
<text x="983" y="1071">Termin Soll</text><text x="1027" y="1071">Termin Ist</text>
<text x="1073" y="1071">Verantwortlich</text><text x="1148" y="1071">Priorität</text>
<text x="1197" y="1071">A/P-Nr.</text><text x="1227" y="1071">M-Nr.</text>
</g>
<rect x="813" y="1075" width="434" height="184" fill="#fff"/>
<rect x="806" y="1075" width="7" height="184" fill="#c8c8c8"/>
<rect x="977" y="1075" width="41" height="88" fill="#ee1c1c"/>
<rect x="977" y="1163" width="41" height="48" fill="#f0c020"/>
<rect x="977" y="1211" width="41" height="48" fill="#8cc820"/>
<path class="grid" d="M813 1075H1247M813 1083H1247M813 1091H1247M813 1099H1247M813 1107H1247M813 1115H1247M813 1123H1247M813 1131H1247M813 1139H1247M813 1147H1247M813 1155H1247M813 1163H1247M813 1171H1247M813 1179H1247M813 1187H1247M813 1195H1247M813 1203H1247M813 1211H1247M813 1219H1247M813 1227H1247M813 1235H1247M813 1243H1247M813 1251H1247M813 1259H1247M813 1075V1259M977 1075V1259M1018 1075V1259M1062 1075V1259M1128 1075V1259M1192 1075V1259M1221 1075V1259M1247 1075V1259"/>
<path class="bar" d="M815 1079h75M815 1087h85M815 1095h70M815 1103h55M815 1111h48M815 1119h80M815 1127h72M815 1135h68M815 1143h50M815 1151h62M815 1159h70M815 1167h60M815 1175h65M815 1183h75M815 1191h78M815 1199h72M815 1207h64M815 1215h82M815 1223h62M815 1231h70M815 1239h82M815 1247h80M815 1255h78M1090 1079h10M1090 1087h10M1091 1095h8M1091 1103h8M1090 1111h10M1089 1119h12M1091 1127h8M1090 1135h10M1090 1143h10M1091 1151h8M1091 1159h8M1091 1167h8M1157 1079h6M1157 1087h6M1157 1095h6M1157 1103h6M1157 1111h6M1157 1119h6M1157 1127h6M1145 1135h30M1157 1143h6M1145 1151h30M1157 1159h6M1157 1167h6M1204 1079h5M1204 1087h5M1204 1095h4M1204 1103h4M1204 1111h4M1204 1119h4M1204 1127h4M1205 1135h2M1204 1143h4M1204 1151h4M1204 1159h4M1204 1167h4M1232 1079h4M1232 1087h4M1232 1095h4M1232 1103h4M1232 1111h4M1232 1119h4M1232 1127h4M1233 1135h2M1232 1143h4M1232 1151h4M1232 1159h4M1232 1167h4"/>
<path class="wbar" d="M989 1079h17M989 1087h17M989 1095h17M989 1103h17M989 1111h17M989 1119h17M989 1127h17M989 1135h17M989 1143h17M989 1151h17M989 1159h17"/>
<path stroke="#5a4010" stroke-width="1.5" d="M989 1167h17M989 1175h17M989 1183h17M989 1191h17M989 1199h17M989 1207h17M989 1215h17M989 1223h17M989 1231h17M989 1239h17M989 1247h17M989 1255h17"/>
<polygon points="807,1077 810,1079 807,1081" fill="#000"/>
<rect x="813" y="1261" width="33" height="19" fill="#fff"/>
<text x="814" y="1266" class="tiny" font-size="3.5">Darstellung</text>
<rect x="848" y="1261" width="95" height="6" fill="#ee1c1c"/>
<rect x="848" y="1267" width="95" height="6" fill="#f0c020"/>
<rect x="848" y="1273" width="95" height="6" fill="#8cc820"/>
<text x="895" y="1265.8" class="tinyb" font-size="3.8" fill="#fff" text-anchor="middle">Termin überschritten</text>
<text x="895" y="1271.8" class="tinyb" font-size="3.8" text-anchor="middle">Sie haben noch max. 30 Tage Zeit</text>
<text x="895" y="1277.8" class="tinyb" font-size="3.8" text-anchor="middle">Sie haben mehr als 30 Tage Zeit</text>
<text x="948" y="1266" class="tinyb" font-size="3.8">Auswertekriterien</text>
<text x="1003" y="1266" class="tinyb" font-size="3.8">Termin Soll von</text>
<text x="1003" y="1276" class="tinyb" font-size="3.8">Termin Soll bis</text>
<rect class="btn" x="886" y="1284" width="53" height="11"/><text x="912.5" y="1291" class="tiny" font-size="3.8" text-anchor="middle">Berichtsvorschau</text>
<rect class="btn" x="957" y="1284" width="90" height="11"/><text x="1002" y="1291" class="tiny" font-size="3.8" text-anchor="middle">Vollständigen Datensatz anzeigen</text>
<text x="808" y="1306.5" class="tiny" font-size="3.8">Datensatz:</text>
<rect class="nav" x="826" y="1303" width="5" height="5"/><rect class="nav" x="831" y="1303" width="5" height="5"/>
<rect class="inp" x="837" y="1303" width="26" height="5"/>
<rect class="nav" x="864" y="1303" width="5" height="5"/><rect class="nav" x="869" y="1303" width="5" height="5"/><rect class="nav" x="874" y="1303" width="5" height="5"/>
<text x="808" y="1316" class="tiny" font-size="3.8">Kurzbeschreibung der Massnahme (max. 50 Zeichen)</text>
</g>

<!-- ============ SCREEN C ============ -->
<g id="screen-c">
<rect x="1047" y="1172" width="380" height="150" fill="#d4d0c8" stroke="#777" stroke-width="0.8"/>
<rect x="1047" y="1172" width="380" height="6" fill="#8a96aa"/>
<rect x="1406" y="1172.5" width="5" height="5" class="nav"/><rect x="1412" y="1172.5" width="5" height="5" class="nav"/><rect x="1418" y="1172.5" width="5" height="5" class="nav"/>
<rect x="1419" y="1180" width="7" height="140" fill="#e4e4e4"/>
<text x="1054" y="1187.5" font-family="Liberation Sans, Arial, sans-serif" font-weight="bold" font-size="8.5" fill="#2a2a8a" textLength="179" lengthAdjust="spacingAndGlyphs">Auswertung nach: Thema - Abteilung - Status</text>
<g class="tinyb" font-size="3.5">
<text x="1054" y="1198">Kurzbeschreibung</text>
<text x="1195" y="1198">Termin Soll</text><text x="1233" y="1198">Termin Ist</text>
<text x="1275" y="1198">Verantwortlich</text><text x="1335" y="1198">Priorität</text>
<text x="1374" y="1198">A/P-Nr.</text><text x="1398" y="1198">M-Nr.</text>
</g>
<rect x="1053" y="1202" width="364" height="71.5" fill="#fff"/>
<rect x="1048" y="1202" width="5" height="71.5" fill="#c8c8c8"/>
<rect x="1190" y="1202" width="35" height="32.5" fill="#ee1c1c"/>
<rect x="1190" y="1234.5" width="35" height="6.5" fill="#f0c020"/>
<rect x="1190" y="1241" width="35" height="26" fill="#8cc820"/>
<path class="grid" d="M1053 1202H1417M1053 1208.5H1417M1053 1215H1417M1053 1221.5H1417M1053 1228H1417M1053 1234.5H1417M1053 1241H1417M1053 1247.5H1417M1053 1254H1417M1053 1260.5H1417M1053 1267H1417M1053 1273.5H1417M1053 1202V1273.5M1190 1202V1273.5M1225 1202V1273.5M1262 1202V1273.5M1317 1202V1273.5M1370 1202V1273.5M1393 1202V1273.5M1417 1202V1273.5"/>
<path class="bar" style="stroke-width:1.2" d="M1055 1205.2h60M1055 1211.7h45M1055 1218.2h62M1055 1224.7h52M1055 1231.2h66M1055 1237.7h64M1055 1244.2h72M1055 1250.7h64M1055 1257.2h62M1055 1263.7h50M1286 1205.2h7M1286 1211.7h7M1286 1218.2h7M1286 1224.7h7M1286 1231.2h7M1286 1237.7h7M1286 1244.2h7M1286 1250.7h7M1286 1257.2h7M1284 1263.7h10M1340 1205.2h6M1340 1211.7h6M1340 1218.2h6M1330 1224.7h28M1340 1231.2h6M1340 1237.7h6M1340 1244.2h6M1340 1250.7h6M1340 1257.2h6M1340 1263.7h7M1379 1205.2h4M1379 1211.7h4M1379 1218.2h4M1379 1224.7h4M1379 1231.2h4M1379 1237.7h4M1379 1244.2h4M1379 1250.7h4M1379 1257.2h4M1379 1263.7h4M1403 1205.2h4M1403 1211.7h4M1403 1218.2h4M1403 1224.7h4M1403 1231.2h4M1403 1237.7h4M1403 1244.2h4M1403 1250.7h4M1403 1257.2h4M1403 1263.7h4"/>
<path class="wbar" style="stroke-width:1.2" d="M1200 1205.2h15M1200 1211.7h15M1200 1218.2h15M1200 1224.7h15M1200 1231.2h15"/>
<path stroke="#4a4010" stroke-width="1.2" d="M1200 1237.7h15M1200 1244.2h15M1200 1250.7h15M1200 1257.2h15M1200 1263.7h15"/>
<text x="1371" y="1272" class="tiny" font-size="3">AutoWert</text><text x="1394" y="1272" class="tiny" font-size="3">AutoWert</text>
<rect x="1053" y="1282" width="32" height="16" fill="#fff"/>
<text x="1054" y="1286.5" class="tiny" font-size="3.3">Darstellung</text>
<rect x="1087" y="1282" width="76" height="5" fill="#ee1c1c"/>
<rect x="1087" y="1287" width="76" height="5" fill="#f0c020"/>
<rect x="1087" y="1292" width="76" height="5.5" fill="#8cc820"/>
<text x="1125" y="1286" class="tinyb" font-size="3.3" fill="#fff" text-anchor="middle">Termin überschritten</text>
<text x="1125" y="1291" class="tinyb" font-size="3.3" text-anchor="middle">Sie haben noch max. 30 Tage Zeit</text>
<text x="1125" y="1296" class="tinyb" font-size="3.3" text-anchor="middle">Sie haben mehr als 30 Tage Zeit</text>
<g class="tinyb" font-size="3.3">
<text x="1167" y="1287">Auswertekriterien</text>
<text x="1213" y="1287">Termin Soll von</text>
<text x="1213" y="1296">Termin Soll bis</text>
<text x="1285" y="1287">Thema</text>
<text x="1280" y="1296">Abteilung</text>
<text x="1352" y="1287">Status</text>
</g>
<rect class="inp" x="1251" y="1283" width="22" height="5"/><rect class="inp" x="1251" y="1292" width="22" height="5"/>
<rect class="inp" x="1303" y="1283" width="45" height="5"/><text x="1325.5" y="1287" class="tiny" font-size="3.3" text-anchor="middle">Umweltschutz</text>
<rect class="inp" x="1303" y="1292" width="45" height="5"/><text x="1325.5" y="1296" class="tiny" font-size="3.3" text-anchor="middle">Produktion</text>
<rect class="inp" x="1370" y="1283" width="43" height="5"/><text x="1391.5" y="1287" class="tiny" font-size="3.3" text-anchor="middle">offen</text>
<rect class="btn" x="1112" y="1303" width="38" height="9"/><text x="1131" y="1309" class="tiny" font-size="3.3" text-anchor="middle">Berichtsvorschau</text>
<rect class="btn" x="1173" y="1303" width="89" height="9"/><text x="1217.5" y="1309" class="tiny" font-size="3.3" text-anchor="middle">Vollständigen Datensatz anzeigen</text>
<rect class="btn" x="1278" y="1303" width="40" height="9"/><path stroke="#e08040" stroke-width="1.2" d="M1288 1307.5h20"/>
<rect class="btn" x="1327" y="1303" width="58" height="9"/><text x="1356" y="1309" class="tiny" font-size="3.3" fill="#b02020" text-anchor="middle">Formular schließen</text>
<text x="1049" y="1320.5" class="tiny" font-size="3.3">Datensatz:</text>
<rect class="nav" x="1064" y="1317" width="4" height="4"/><rect class="nav" x="1068" y="1317" width="4" height="4"/>
<rect class="inp" x="1073" y="1317" width="22" height="4"/>
<rect class="nav" x="1096" y="1317" width="4" height="4"/><rect class="nav" x="1100" y="1317" width="4" height="4"/><rect class="nav" x="1104" y="1317" width="4" height="4"/>
</g>

<!-- ============ PAGE 1: Übersicht ============ -->
<g id="page-1">
<rect x="691" y="1380" width="525" height="343" fill="#fff"/>
<path d="M691 1723V1380H1216" fill="none" stroke="#9a9a9a" stroke-width="1"/>
<line x1="723" y1="1409" x2="1167" y2="1409" stroke="#d6d6d6" stroke-width="2"/>
<text x="725" y="1421" font-family="Liberation Sans, Arial, sans-serif" font-weight="bold" font-size="9" fill="#2a2a8a" textLength="211" lengthAdjust="spacingAndGlyphs">Übersicht der offenen Korrekturmaßnahmen</text>
<text x="965" y="1421" font-family="Liberation Sans, Arial, sans-serif" font-weight="bold" font-size="6" fill="#2a2a8a">Quelle</text>
<text x="1002" y="1421" font-family="Liberation Sans, Arial, sans-serif" font-weight="bold" font-size="6" fill="#2a2a8a">internes Audit</text>
<line x1="725" y1="1432" x2="1167" y2="1432" stroke="#3a3a9a" stroke-width="1.5"/>
<rect x="725" y="1433" width="442" height="7" fill="#dce0ea"/>
<g class="tiny" font-size="4">
<text x="727" y="1438.5">Auditierte Abteilung</text><text x="798" y="1438.5">Antwort</text><text x="855" y="1438.5">Maßnahme</text>
<text x="992" y="1438.5">Abteilung</text><text x="1041" y="1438.5">Verantwortlicher</text><text x="1096" y="1438.5">Termin Soll</text><text x="1137" y="1438.5">Termin Ist</text>
</g>
<rect x="725" y="1442" width="442" height="6" fill="#ccf5cc"/>
<text x="727" y="1447" class="tinyb" style="fill:#d02020">EHS</text>
<path class="bar" style="stroke-width:1.1;stroke:#999" d="M725 1452h104M725 1457h104M725 1462h104M725 1467h104M725 1489h104M725 1494h20M725 1506h104M725 1511h104M725 1516h30M725 1521h104M725 1537h104M725 1542h104M725 1548h70M725 1553h90"/>
<line x1="725" y1="1470" x2="829" y2="1470" stroke="#dde" stroke-width="0.6"/>
<line x1="725" y1="1485" x2="829" y2="1485" stroke="#dde" stroke-width="0.6"/>
<rect x="725" y="1497" width="104" height="5.5" fill="#ccf5cc"/>
<text x="727" y="1501.5" class="tinyb" style="fill:#d02020">F + E</text>
<rect x="725" y="1527" width="104" height="6" fill="#ccf5cc"/>
<text x="727" y="1532" class="tinyb" style="fill:#d02020">Produktion</text>
<rect x="725" y="1696" width="105" height="8" fill="#dce0ea" stroke="#9a9ab0" stroke-width="0.5"/>
<text x="738" y="1701.5" class="tiny" font-size="3.8">Auswertekriterien</text>
<text x="770" y="1701.5" class="tiny" font-size="3.8">Auditdatum</text>
</g>

<!-- ============ PAGE 2: Auditbericht ============ -->
<g id="page-2">
<rect x="829" y="1452" width="501" height="299" fill="#fff"/>
<path d="M829 1751V1452H1330" fill="none" stroke="#9a9a9a" stroke-width="1"/>
<text x="862" y="1482" font-family="Liberation Sans, Arial, sans-serif" font-weight="bold" font-size="8" fill="#2a2a8a">Auditbericht</text>
<text x="862" y="1496" font-family="Liberation Sans, Arial, sans-serif" font-weight="bold" font-size="8" fill="#2a2a8a">Abteilung: <tspan font-weight="normal" fill="#888">EHS</tspan></text>
<text x="862" y="1506" class="tinyb" font-size="4" style="fill:#2a2a8a">Datum Audit</text>
<text x="917" y="1506" class="tinyb" font-size="4.5">12.03.03</text>
<g class="tiny" font-size="3.6">
<text x="1075" y="1480">Auditierte Person:  Schmitz</text>
<text x="1200" y="1480">Leitauditor:  Fischer</text>
<text x="1052" y="1490">Weitere auditierte Personen</text>
<text x="1184" y="1490">Weitere Auditoren</text>
</g>
<line x1="862" y1="1511" x2="984" y2="1511" stroke="#3a3a9a" stroke-width="1.4"/>
<rect x="862" y="1512" width="122" height="7" fill="#dce0ea"/>
<text x="863" y="1517.5" class="tiny" font-size="4">Frage</text>
<text x="930" y="1517.5" class="tiny" font-size="4">Antwort</text>
<path class="bar" style="stroke-width:1;stroke:#999" d="M863 1525h55M863 1529.5h62M863 1534h20M930 1525h40M930 1529.5h54M930 1534h40M863 1541h58M863 1545.5h60M863 1550h36M863 1554.5h30M930 1541h54M930 1545.5h54M930 1550h50M930 1554.5h54M863 1561h60M863 1565.5h50M863 1570h22M930 1561h54M930 1565.5h50M930 1570h22M863 1576h28M863 1580.5h62M863 1585h50M863 1589.5h20M930 1576h54M930 1580.5h54M930 1585h40M930 1589.5h54M863 1594h58M863 1598.5h50M863 1603h55M863 1607.5h50M863 1612h20M930 1594h50M930 1598.5h50M930 1603h54M930 1607.5h54M930 1612h20"/>
<path stroke="#c8cce0" stroke-width="0.6" d="M862 1537H984M862 1557H984M862 1573H984M862 1591H984M928.5 1521V1612"/>
<rect x="862" y="1724" width="122" height="9" fill="#dce0ea" stroke="#9a9ab0" stroke-width="0.5"/>
<text x="872" y="1730" class="tiny" font-size="3.8">Auswertekriterien</text>
<text x="955" y="1730" class="tiny" font-size="3.8">Auditdatum</text>
</g>

<!-- ============ PAGE 3: Alle Maßnahmen - Status ============ -->
<g id="page-3">
<rect x="984" y="1496" width="452" height="318" fill="#fff"/>
<path d="M984 1814V1496H1436" fill="none" stroke="#9a9a9a" stroke-width="1"/>
<line x1="1017" y1="1520" x2="1400" y2="1520" stroke="#dedede" stroke-width="2"/>
<text x="1017" y="1530" font-family="Liberation Sans, Arial, sans-serif" font-size="9.5" fill="#2a2a8a" textLength="187" lengthAdjust="spacingAndGlyphs">Auswertung nach: Alle Maß nahmen - Status</text>
<line x1="1017" y1="1535" x2="1400" y2="1535" stroke="#3a3a9a" stroke-width="1.4"/>
<g class="tiny" font-size="3.8">
<text x="1017" y="1541.5">Kurzbeschreibung der Maßnahme</text>
<text x="1165" y="1541.5">Termin Soll</text><text x="1200" y="1541.5">Termin Ist</text>
<text x="1240" y="1541.5">Verantwortlich</text><text x="1305" y="1541.5">Priorität</text>
<text x="1348" y="1541.5">A.P.-Nr.</text><text x="1372" y="1541.5">M-Nr.</text>
</g>
<line x1="1017" y1="1545" x2="1400" y2="1545" stroke="#3a3a9a" stroke-width="0.8"/>
<rect x="1017" y="1548" width="383" height="5" fill="#c8f5c8"/><text x="1018" y="1552.5" class="tinyb" style="fill:#d02020">Einkauf</text>
<rect x="1017" y="1571" width="383" height="5.5" fill="#c8f5c8"/><text x="1018" y="1575.5" class="tinyb" style="fill:#d02020">E-Werkstatt</text>
<rect x="1017" y="1595" width="383" height="5.5" fill="#c8f5c8"/><text x="1018" y="1599.5" class="tinyb" style="fill:#d02020">M-Werkstatt</text>
<rect x="1017" y="1626" width="383" height="5.5" fill="#c8f5c8"/><text x="1018" y="1630.5" class="tinyb" style="fill:#d02020">Produktion</text>
<rect x="1017" y="1642" width="383" height="5.5" fill="#c8f5c8"/><text x="1018" y="1646.5" class="tinyb" style="fill:#d02020">WI</text>
<path stroke="#b8bcd8" stroke-width="0.6" d="M1017 1561H1400M1017 1569H1400M1017 1584H1400M1017 1592H1400M1017 1608H1400M1017 1616H1400M1017 1624H1400M1017 1640H1400M1017 1655H1400"/>
<path class="bar" style="stroke-width:1;stroke:#888" d="M1017 1557h8M1017 1565h8M1017 1580h8M1017 1588h8M1017 1604h28M1017 1612h10M1017 1620h36M1017 1636h20M1017 1651h8M1166 1557h10M1166 1565h10M1166 1588h10M1166 1620h10M1201 1557h10M1201 1588h10M1244 1557h6M1244 1565h6M1242 1580h10M1244 1588h6M1244 1604h6M1244 1612h6M1244 1620h6M1244 1636h6M1244 1651h6M1308 1557h6M1308 1565h4M1308 1580h4M1308 1588h4M1308 1604h4M1308 1612h4M1308 1620h5M1308 1636h4M1308 1651h4M1357 1557h2M1357 1565h2M1357 1580h2M1357 1588h2M1357 1604h2M1357 1612h2M1357 1620h2M1357 1636h2M1357 1651h2M1381 1557h2M1381 1565h2M1381 1580h2M1381 1588h2M1380 1604h4M1381 1612h2M1381 1620h2M1381 1636h2M1381 1651h2"/>
<path stroke="#e02020" stroke-width="1.2" d="M1166 1580h10M1166 1604h10M1166 1612h10M1166 1636h10M1166 1651h10"/>
<rect x="1017" y="1768" width="383" height="22" fill="#dce0ea" stroke="#8a8aaa" stroke-width="0.6"/>
<rect x="1017" y="1768" width="34" height="22" fill="#fff" stroke="#8a8aaa" stroke-width="0.4"/>
<text x="1018" y="1772.5" class="tiny" font-size="3.3">Darstellung</text>
<rect x="1051" y="1768" width="87" height="7" fill="#fff" stroke="#444" stroke-width="0.4"/>
<rect x="1051" y="1775" width="87" height="7" fill="#fff" stroke="#444" stroke-width="0.4"/>
<rect x="1051" y="1782" width="87" height="7" fill="#fff" stroke="#444" stroke-width="0.4"/>
<text x="1094.5" y="1773" class="tiny" font-size="3.5" fill="#e02020" text-anchor="middle" text-decoration="underline">Termin überschritten</text>
<text x="1094.5" y="1780" class="tiny" font-size="3.5" fill="#2a2a9a" text-anchor="middle">Sie haben noch max. 30 Tage Zeit</text>
<text x="1094.5" y="1787" class="tiny" font-size="3.5" text-anchor="middle">Sie haben mehr als 30 Tage Zeit</text>
<g class="tinyb" font-size="3.5">
<text x="1160" y="1774">Auswertekriterien</text>
<text x="1205" y="1774">Termin Soll von</text>
<text x="1205" y="1783">Termin Soll bis</text>
<text x="1282" y="1774">Status</text>
</g>
<rect x="1237" y="1770.5" width="16" height="5" fill="#fff"/><text x="1245" y="1774.5" class="tiny" font-size="3.3" text-anchor="middle">01.01.00</text>
<rect x="1237" y="1779.5" width="16" height="5" fill="#fff"/><text x="1245" y="1783.5" class="tiny" font-size="3.3" text-anchor="middle">31.12.10</text>
<rect x="1300" y="1770.5" width="45" height="5" fill="#fff"/><text x="1322.5" y="1774.5" class="tiny" font-size="3.3" text-anchor="middle">Alle</text>
<g class="tiny" font-size="3.3">
<text x="1017" y="1796">Maßnahmenverfolgung</text>
<text x="1211" y="1796">Seite 1 von 1</text>
<text x="1303" y="1796">Druckdatum</text>
<text x="1344" y="1796">Donnerstag, 27. März 2003</text>
</g>
</g>

<!-- ============ CONNECTORS ============ -->
<g id="connectors">
<path class="conn" d="M582 131H382V360"/>
<polygon class="head" points="365,357 399,357 382,391"/>
<path class="conn" d="M582 171H529V350H1071V360"/>
<polygon class="head" points="1054,357 1088,357 1071,391"/>
<path class="conn" d="M688 213H977"/>
<polygon class="head" points="974,196 974,230 1007,213"/>
<path class="conn" d="M1130 213H1208"/>
<polygon class="head" points="1206,196 1206,230 1240,213"/>
<path class="conn" d="M215 781V840H948V776"/>
<path class="conn" d="M314 840V1081"/>
<polygon class="head" points="297,1078 331,1078 314,1112"/>
<path class="conn" d="M498 1222H595M595 1038V1556M592 1041H662M592 1553H660"/>
<polygon class="head" points="660,1025 660,1057 692,1041"/>
<polygon class="head" points="658,1537 658,1569 691,1553"/>
</g>

<!-- ============ LABELS ============ -->
<g id="labels">
<text class="lbl" x="350" y="36">Hauptmenu</text>
<text class="lbl" x="975" y="36">Erfassung der Stammdaten</text>
<text class="lbl" x="9" y="342">Erfassung der</text>
<text class="lbl" x="9" y="377">Aktivitäten/Projekte</text>
<text class="lbl" x="1127" y="377">Erfassung der Audits</text>
<text class="lbl" x="9" y="1093">Auswertungen</text>
<text class="lbl" x="973" y="1361">Auswertung auf dem Bildschirm</text>
<text class="lbl" x="370" y="1552">Selektion der</text>
<text class="lbl" x="368" y="1588">Auswertungen</text>
<text class="lbl" x="556" y="1808">Auswertung in Tabellenform</text>
</g>
</svg>
